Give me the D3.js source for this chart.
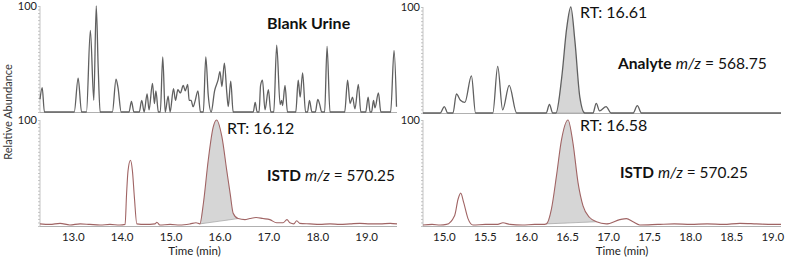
<!DOCTYPE html>
<html>
<head>
<meta charset="utf-8">
<script src="https://cdn.jsdelivr.net/npm/d3@7/dist/d3.min.js"></script>
<style>
  body { margin: 0; background: #fff; }
  svg { display: block; font-family: Lato, "Open Sans", sans-serif; }
</style>
</head>
<body>
<svg id="chart" width="785" height="259"></svg>
<script>
'use strict'
// 空白尿样 (top left)
var blankTime = [12.32, 12.365, 12.41, 13.02, 13.10, 13.17, 13.27, 13.35, 13.42, 13.47, 13.51, 13.55,
  13.80, 13.875, 13.915, 13.98, 14.14, 14.19, 14.24, 14.35, 14.40, 14.45, 14.51, 14.55, 14.62, 14.66,
  14.69, 14.74, 14.78, 14.83, 14.88, 14.94, 14.98, 15.05, 15.09, 15.14, 15.19, 15.25, 15.29, 15.34,
  15.37, 15.41, 15.45, 15.49, 15.55, 15.60, 15.66, 15.71, 15.76, 15.82, 15.89, 15.96, 16.00, 16.04,
  16.09, 16.14, 16.17, 16.22, 16.27, 16.68, 16.72, 16.76, 16.80, 16.83, 16.87, 16.92, 16.99, 17.04,
  17.10, 17.16, 17.23, 17.26, 17.28, 17.33, 17.38, 17.55, 17.60, 17.64, 17.69, 17.75, 17.79, 17.83,
  17.88, 17.95, 18.00, 18.04, 18.08, 18.14, 18.19, 18.25, 18.55, 18.61, 18.66, 18.71, 18.76, 18.83,
  18.88, 18.98, 19.03, 19.07, 19.10, 19.14, 19.17, 19.24, 19.29, 19.49, 19.56, 19.61];
var blankAbund = [12, 23, 0, 0, 32, 0, 0, 77, 11, 100, 42, 0,
  0, 31, 23, 0, 0, 10, 0, 0, 11, 0, 17, 2, 27, 8,
  20, 0, 0, 52, 0, 15, 0, 22, 11, 21, 18, 25, 20, 26,
  11, 11, 5, 10, 20, 0, 0, 52, 16, 0, 20, 30, 38, 24,
  46, 18, 5, 29, 0, 0, 9, 0, 0, 25, 30, 2, 21, 0,
  0, 63, 7, 11, 6, 25, 0, 0, 30, 14, 37, 0, 0, 11,
  0, 0, 12, 7, 0, 0, 62, 0, 0, 30, 8, 14, 3, 26,
  0, 0, 14, 0, 0, 11, 4, 18, 0, 0, 58, 5];

// ISTD (bottom left)
var istd1Time = [12.32, 12.52, 12.73, 12.93, 13.14, 13.34, 13.55, 13.75, 13.95, 14.06, 14.09, 14.12,
  14.17, 14.21, 14.25, 14.30, 14.47, 14.67, 14.71, 14.77, 14.98, 15.18, 15.39, 15.51, 15.59, 15.66,
  15.76, 15.86, 15.93, 16.04, 16.14, 16.21, 16.27, 16.37, 16.51, 16.61, 16.74, 16.88, 17.02, 17.16,
  17.29, 17.37, 17.43, 17.51, 17.57, 17.63, 17.84, 18.04, 18.25, 18.45, 18.66, 18.86, 19.07, 19.27,
  19.48, 19.62];
var istd1Abund = [2, 1.5, 2.5, 1, 2, 1.5, 1, 1.5, 1, 1.5, 30, 52,
  62, 52, 27, 2, 1.5, 2, 3.5, 1, 1.5, 1, 2, 3, 2, 21,
  62, 93, 100, 84, 52, 30, 12, 7, 6, 7, 8, 7, 6, 3,
  3, 6, 3, 2, 5, 2.5, 2, 1.5, 2, 1.5, 2, 2.5, 2, 2,
  2.5, 2];
var istd1Peak = [15.59, 16.37];

// Analyte (top right)
var analyteTime = [14.74, 14.95, 15.00, 15.04, 15.105, 15.147, 15.196, 15.25, 15.33, 15.38, 15.59, 15.65,
  15.71, 15.79, 15.88, 16.24, 16.28, 16.32, 16.36, 16.43, 16.49, 16.54, 16.59, 16.65, 16.71, 16.81,
  16.85, 16.89, 16.97, 17.03, 17.30, 17.35, 17.40, 19.10];
var analyteAbund = [0, 0, 6, 0, 0, 18, 12, 10, 35, 0, 0, 44,
  3, 26, 0, 0, 8, 0, 0, 34, 80, 100, 68, 15, 0, 0,
  9, 2, 6, 0, 0, 7, 0, 0];
var analytePeak = [16.36, 16.71];

// ISTD (bottom right)
var istd2Time = [14.74, 14.85, 14.95, 15.025, 15.126, 15.166, 15.199, 15.236, 15.288, 15.349, 15.50, 15.65,
  15.714, 15.80, 15.95, 16.10, 16.20, 16.243, 16.304, 16.365, 16.426, 16.506, 16.567, 16.628, 16.689, 16.77,
  16.852, 16.973, 17.136, 17.218, 17.298, 17.38, 17.60, 17.80, 18.00, 18.20, 18.40, 18.60, 18.80, 19.00, 19.10];
var istd2Abund = [1, 1.5, 1, 1.5, 10, 25, 31, 22, 7, 1, 1.5, 1.5,
  3, 1.5, 1, 1.5, 1.5, 2, 16, 47, 81, 100, 78, 41, 19, 8,
  4, 2, 6, 7, 4, 1, 1.5, 2, 1.5, 2, 1.5, 2.5, 2, 1.5, 1.5];
var istd2Peak = [16.243, 16.852];

var leftTicks = [13, 14, 15, 16, 17, 18, 19];
var rightTicks = [15, 15.5, 16, 16.5, 17, 17.5, 18, 18.5, 19];

var svg = d3.select("#chart");

var xL = d3.scaleLinear().domain([12.32, 19.62]).range([40, 397]);
var xR = d3.scaleLinear().domain([14.74, 19.10]).range([423, 781]);
var yTL = d3.scaleLinear().domain([0, 100]).range([112, 6]);
var yTR = d3.scaleLinear().domain([0, 100]).range([113, 7]);
var yB = d3.scaleLinear().domain([0, 100]).range([226, 120]);

function zip(ts, vs) {
  return ts.map(function (t, i) { return [t, vs[i]]; });
}

//画一个面板
function drawPanel(x, y, ts, vs, color, width, peak, showAxis) {
  var g = svg.append("g");
  var pts = zip(ts, vs);

  // 坐标轴 y (minor ticks)
  var yAxis = d3.axisLeft(y).tickValues(d3.range(0, 100.1, 100 / 30)).tickSize(2).tickFormat("");
  var ga = g.append("g").attr("transform", "translate(" + x.range()[0] + ",0)").call(yAxis);
  ga.selectAll("path,line").attr("stroke", "#b5b5b5").attr("stroke-width", 0.8);
  ga.select(".domain").attr("d", "M0," + y(0) + "V" + y(100));

  // x axis line
  g.append("line")
    .attr("x1", x.range()[0]).attr("x2", x.range()[1])
    .attr("y1", y(0) + 0.5).attr("y2", y(0) + 0.5)
    .attr("stroke", "#b0b0b0").attr("stroke-width", 1);

  g.append("text")
    .attr("x", x.range()[0] - 3).attr("y", y(100) + 4)
    .attr("text-anchor", "end").attr("font-size", 11).attr("fill", "#222")
    .text("100");

  // 积分区域
  if (peak) {
    var i0 = ts.indexOf(peak[0]), i1 = ts.indexOf(peak[1]);
    var seg = pts.slice(i0, i1 + 1);
    var b0 = vs[i0], b1 = vs[i1];
    var base = function (t) { return b0 + (b1 - b0) * (t - peak[0]) / (peak[1] - peak[0]); };
    var area = d3.area()
      .x(function (d) { return x(d[0]); })
      .y0(function (d) { return y(base(d[0])); })
      .y1(function (d) { return y(d[1]); })
      .curve(d3.curveMonotoneX);
    g.append("path").attr("d", area(seg)).attr("fill", "#d6d6d6");
    g.append("line")
      .attr("x1", x(peak[0])).attr("y1", y(b0))
      .attr("x2", x(peak[1])).attr("y2", y(b1))
      .attr("stroke", "#aaa").attr("stroke-width", 0.8);
  }

  var line = d3.line()
    .x(function (d) { return x(d[0]); })
    .y(function (d) { return y(d[1]); })
    .curve(d3.curveMonotoneX);
  g.append("path").attr("d", line(pts))
    .attr("fill", "none").attr("stroke", color).attr("stroke-width", width);

  if (showAxis) {
    var ticks = showAxis;
    g.selectAll(".tl").data(ticks).enter().append("text")
      .attr("x", function (d) { return x(d); })
      .attr("y", 241)
      .attr("text-anchor", "middle").attr("font-size", 11.5).attr("fill", "#222")
      .text(d3.format(".1f"));
    g.append("text")
      .attr("x", (x.range()[0] + x.range()[1]) / 2 + 40 * (x === xL ? -0.6 : 0.5))
      .attr("y", 255)
      .attr("text-anchor", "middle").attr("font-size", 11.5).attr("fill", "#222")
      .text("Time (min)");
  }
  return g;
}

drawPanel(xL, yTL, blankTime, blankAbund, "#606060", 1.3, null, null);
drawPanel(xR, yTR, analyteTime, analyteAbund, "#606060", 1.3, analytePeak, null);
drawPanel(xL, yB, istd1Time, istd1Abund, "#a06464", 1.1, istd1Peak, leftTicks);
drawPanel(xR, yB, istd2Time, istd2Abund, "#a06464", 1.1, istd2Peak, rightTicks);

// 标签
function label(xp, yp, size, parts) {
  var t = svg.append("text").attr("x", xp).attr("y", yp).attr("font-size", size).attr("fill", "#111");
  parts.forEach(function (p) {
    t.append("tspan").attr("font-weight", p.b ? "bold" : "normal")
      .attr("font-style", p.i ? "italic" : "normal").text(p.s);
  });
}
label(267, 29, 16, [{ s: "Blank Urine", b: true }]);
label(580, 18, 16, [{ s: "RT: 16.61" }]);
label(618, 69, 15.6, [{ s: "Analyte", b: true }, { s: " " }, { s: "m/z", i: true }, { s: " = 568.75" }]);
label(227, 134, 16, [{ s: "RT: 16.12" }]);
label(267, 181, 15.4, [{ s: "ISTD", b: true }, { s: " " }, { s: "m/z", i: true }, { s: " = 570.25" }]);
label(580, 131, 16, [{ s: "RT: 16.58" }]);
label(620, 178, 15.4, [{ s: "ISTD", b: true }, { s: " " }, { s: "m/z", i: true }, { s: " = 570.25" }]);

svg.append("text")
  .attr("transform", "translate(12,112) rotate(-90)")
  .attr("text-anchor", "middle").attr("font-size", 11).attr("fill", "#333")
  .text("Relative Abundance");
</script>
</body>
</html>
